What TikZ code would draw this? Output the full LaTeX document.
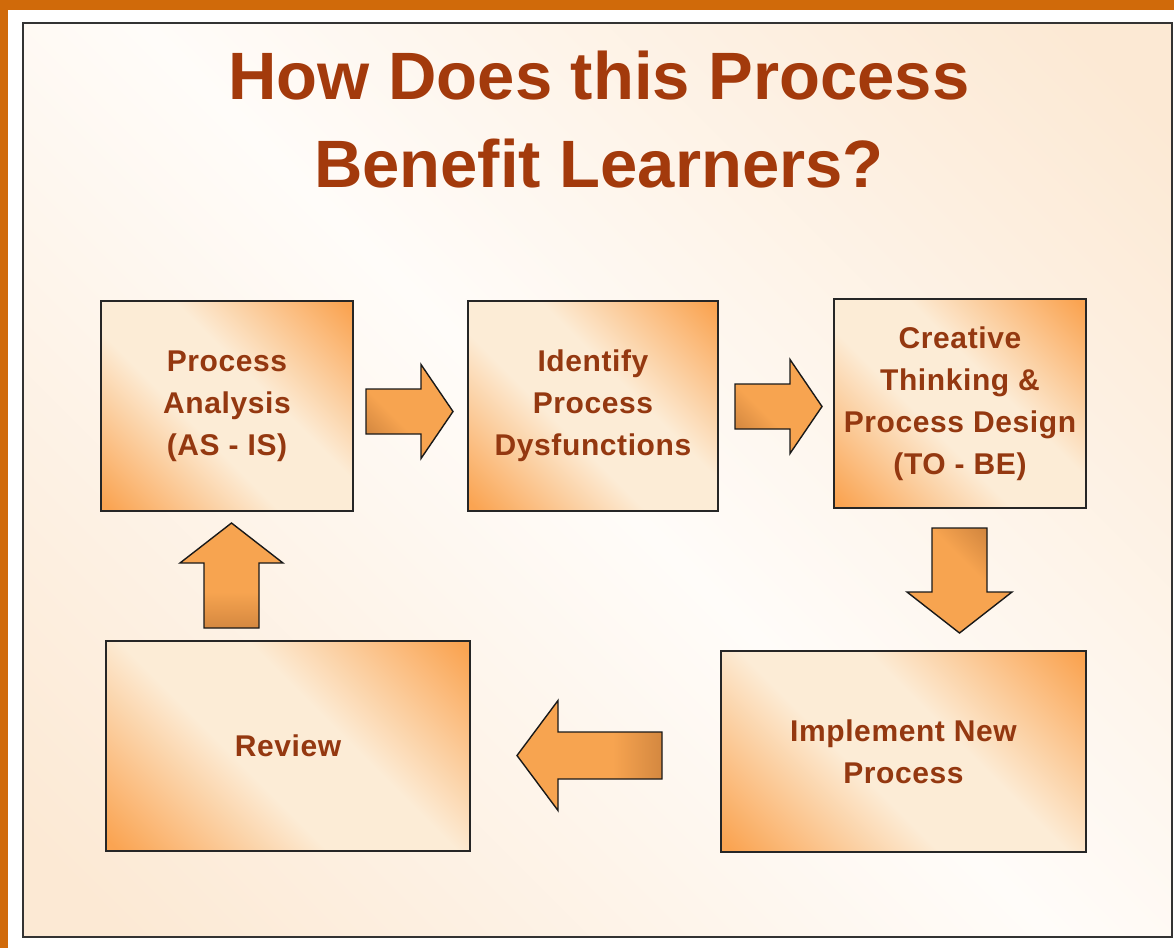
\documentclass[tikz,border=0pt]{standalone}
\usepackage{fontspec}
\setmainfont{Liberation Sans}
\newfontfamily\boxfont{Liberation Sans}[LetterSpace=2]
\usepackage{tikz}
\usetikzlibrary{calc}

\definecolor{FrameOrange}{RGB}{208,106,10}
\definecolor{TitleBrown}{RGB}{163,58,12}
\definecolor{TextBrown}{RGB}{148,56,16}
\definecolor{BoxOrange}{RGB}{250,164,82}
\definecolor{BoxCream}{RGB}{252,236,214}
\definecolor{BgPeach}{RGB}{252,233,212}
\definecolor{BgWhite}{RGB}{255,252,249}
\definecolor{ArrowOrange}{RGB}{247,164,80}
\definecolor{ArrowDark}{RGB}{160,94,40}

\pgfdeclarehorizontalshading{BoxShade}{100bp}{color(0bp)=(BoxOrange); color(16bp)=(BoxOrange); color(42bp)=(BoxCream); color(58bp)=(BoxCream); color(84bp)=(BoxOrange); color(100bp)=(BoxOrange)}
\pgfdeclarehorizontalshading{BgShade}{100bp}{color(0bp)=(BgPeach); color(18bp)=(BgPeach); color(50bp)=(BgWhite); color(82bp)=(BgPeach); color(100bp)=(BgPeach)}
\pgfdeclarehorizontalshading{ArrowShade}{100bp}{color(0bp)=(ArrowDark); color(42bp)=(ArrowOrange); color(100bp)=(ArrowOrange)}

% #1 centre, #2 turn, #3 length, #4 shaft, #5 head width, #6 head length, #7 shading angle
\newcommand{\BlockArrow}[7]{%
	\begin{scope}[shift={(#1)}, rotate=#2]
		\path[ArrowBody, shading angle=#7] ({-#3/2},{-#4/2}) -- ({#3/2-#6},{-#4/2}) -- ({#3/2-#6},{-#5/2})
		-- ({#3/2},0) -- ({#3/2-#6},{#5/2}) -- ({#3/2-#6},{#4/2}) -- ({-#3/2},{#4/2}) -- cycle;
	\end{scope}}

\begin{document}
\begin{tikzpicture}[
		x=1pt, y=-1pt,
		ProcBox/.style={draw=black!85, line width=1.6pt, shading=BoxShade, shading angle=45,
			text=TextBrown, align=center, inner sep=0pt,
			font=\boxfont\bfseries\fontsize{30}{42}\selectfont},
		ArrowBody/.style={draw=black!90, line width=1.4pt, shading=ArrowShade, line join=miter},
		TitleText/.style={text=TitleBrown, align=center, inner sep=0pt,
			font=\bfseries\fontsize{67}{88}\selectfont}
		]
		\useasboundingbox (0,0) rectangle (1174,948);
		
		\fill[white] (0,0) rectangle (1174,948);
		\fill[FrameOrange] (0,0) rectangle (1174,9.5);
		\fill[FrameOrange] (0,0) rectangle (7.5,948);
		\path[draw=black!80, line width=2pt, shading=BgShade, shading angle=45] (22.5,22.5) rectangle (1172,936.5);
		
		\node[TitleText] (title) at (599,120) {How Does this Process\\Benefit Learners?};
		
		\node[ProcBox, minimum width=252pt, minimum height=210pt] (analysis) at (227,406) {Process\\Analysis\\(AS - IS)};
		\node[ProcBox, minimum width=250pt, minimum height=210pt] (identify) at (593,406) {Identify\\Process\\Dysfunctions};
		\node[ProcBox, minimum width=252pt, minimum height=209pt] (design) at (960,403.5) {Creative\\Thinking \&\\Process Design\\(TO - BE)};
		\node[ProcBox, minimum width=365pt, minimum height=201pt] (implement) at (903.5,751.5) {Implement New\\Process};
		\node[ProcBox, minimum width=364pt, minimum height=210pt] (review) at (288,746) {Review};
		
		\coordinate (ArrA) at (409.5,411.5);
		\coordinate (ArrB) at (778.5,406.5);
		\coordinate (ArrC) at (959.5,580.5);
		\coordinate (ArrD) at (589.5,755.5);
		\coordinate (ArrE) at (231.5,575.5);
		
		\BlockArrow{ArrA}{0}{87}{45}{94}{32}{45}
		\BlockArrow{ArrB}{0}{87}{45}{94}{32}{45}
		\BlockArrow{ArrC}{-90}{105}{55}{105}{41}{225}
		\BlockArrow{ArrD}{180}{145}{47}{110}{41}{180}
		\BlockArrow{ArrE}{90}{105}{55}{103}{40}{90}
		
	\end{tikzpicture}
\end{document}
